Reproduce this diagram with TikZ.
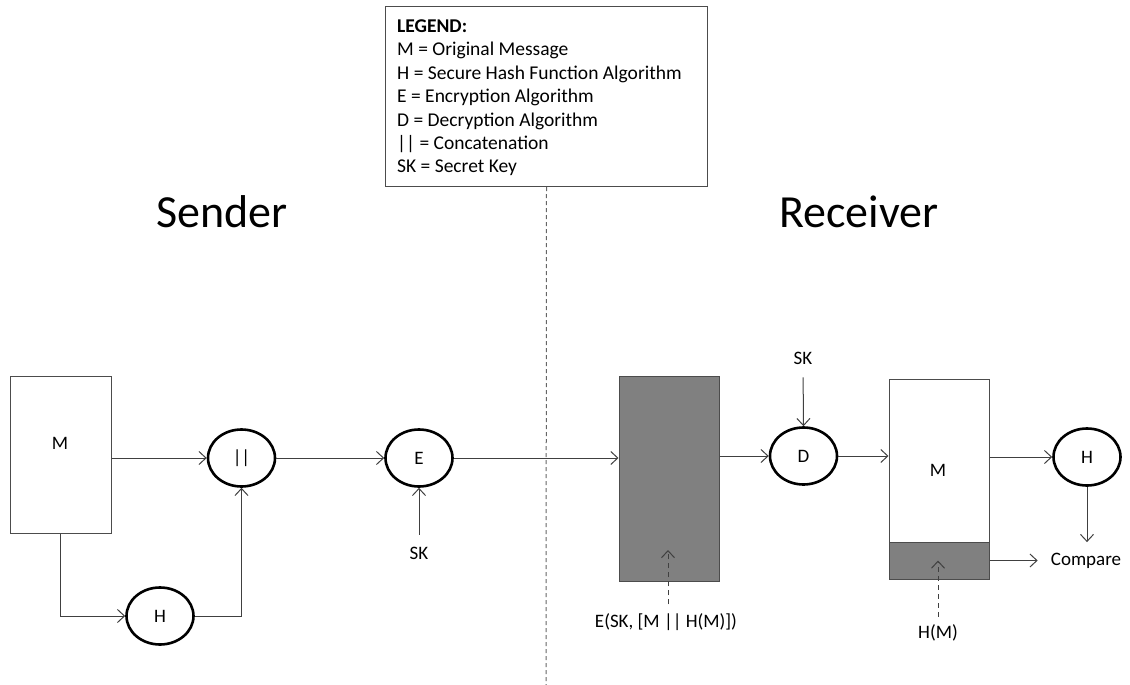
\documentclass[tikz,border=0pt]{standalone}
\usepackage{fontspec}
\setmainfont{Carlito}
\usetikzlibrary{arrows.meta,shapes.geometric}
\begin{document}
\begin{tikzpicture}[x=1pt,y=-1pt,
  lbl/.style={font=\fontsize{19}{23.4}\selectfont, inner sep=0pt},
  legtxt/.style={font=\fontsize{19.5}{23.4}\selectfont, inner sep=0pt, anchor=base west},
  oval/.style={ellipse, draw=black, line width=2.6pt, minimum width=67pt, minimum height=57pt, inner sep=0pt, font=\fontsize{19}{23}\selectfont},
  msgbox/.style={draw=black!70, line width=1pt, rectangle, inner sep=0pt},
  darkbox/.style={msgbox, fill=black!50},
  conn/.style={draw=black!75, line width=1pt, -{Straight Barb[length=7pt,width=13pt]}},
  dconn/.style={conn, dash pattern=on 5pt off 4pt},
  title/.style={font=\fontsize{46}{50}\selectfont, anchor=base, inner sep=0pt}]

\useasboundingbox (0,0) rectangle (1130,685);

% legend
\node[draw=black!70, line width=1pt, minimum width=322pt, minimum height=180pt, anchor=north west, inner sep=0pt] (legend) at (385,6) {};
\node[legtxt] (l0) at (397,32.5) {\textbf{LEGEND:}};
\node[legtxt] (l1) at (397,55.9) {M = Original Message};
\node[legtxt] (l2) at (397,79.3) {H = Secure Hash Function Algorithm};
\node[legtxt] (l3) at (397,102.7) {E = Encryption Algorithm};
\node[legtxt] (l4) at (397,126.1) {D = Decryption Algorithm};
\node[legtxt] (l5) at (397,149.5) {|| = Concatenation};
\node[legtxt] (l6) at (397,172.9) {SK = Secret Key};

% divider
\coordinate (divend) at (546,685);
\draw[draw=black!60, line width=1pt, dash pattern=on 4pt off 3pt] (legend.south) -- (divend);

% titles
\node[title] (snd) at (222,227) {Sender};
\node[title] (rcv) at (859,227) {Receiver};

% sender
\node[msgbox, minimum width=101pt, minimum height=157pt] (sm) at (60.5,454.5) {};
\node[lbl] (smlabel) at (60,443) {M};
\node[oval] (cc) at (241.5,458) {||};
\node[oval] (enc) at (419,458) {E};
\node[lbl] (sk1) at (419,553) {SK};
\node[oval] (h1) at (160,616) {H};

\draw[conn] (sm.east |- cc) -- (cc.west);
\draw[conn] (cc.east) -- (enc.west);
\draw[conn, shorten <=12pt] (sk1.north) -- (enc.south);
\draw[conn] (sm.south) |- (h1.west);
\draw[conn] (h1.east) -| (cc.south);

% receiver
\node[darkbox, minimum width=100pt, minimum height=205pt] (ct) at (669,478.5) {};
\node[lbl] (ctl) at (666,622) {E(SK, [M || H(M)])};
\coordinate (cttip) at (668,550);
\node[oval] (dec) at (803.5,456) {D};
\node[lbl] (sk2) at (803,358) {SK};
\node[msgbox, fill=white, minimum width=100pt, minimum height=200pt] (rm) at (939,479) {};
\node[darkbox, minimum width=100pt, minimum height=37pt, anchor=south] (rmh) at (rm.south) {};
\node[lbl] (rmlabel) at (938,470) {M};
\node[oval] (h2) at (1087,457) {H};
\node[lbl] (cmp) at (1086,561) {Compare};
\node[lbl] (hml) at (938,633) {H(M)};

\draw[conn] (enc.east) -- (enc -| ct.west);
\draw[dconn, shorten <=9pt] (ctl.north -| cttip) -- (cttip);
\draw[conn] (ct.east |- dec) -- (dec.west);
\draw[conn, shorten <=13pt] (sk2.south) -- (dec.north);
\draw[conn] (dec.east) -- (dec -| rm.west);
\draw[conn] (h2 -| rm.east) -- (h2.west);
\draw[conn, shorten >=11pt] (h2.south) -- (h2.south |- cmp.north);
\draw[conn, shorten >=13pt] (rmh.east) -- (rmh.east -| cmp.west);
\draw[dconn, shorten <=8pt] (hml.north) -- (hml.north |- rmh.center);
\end{tikzpicture}
\end{document}
